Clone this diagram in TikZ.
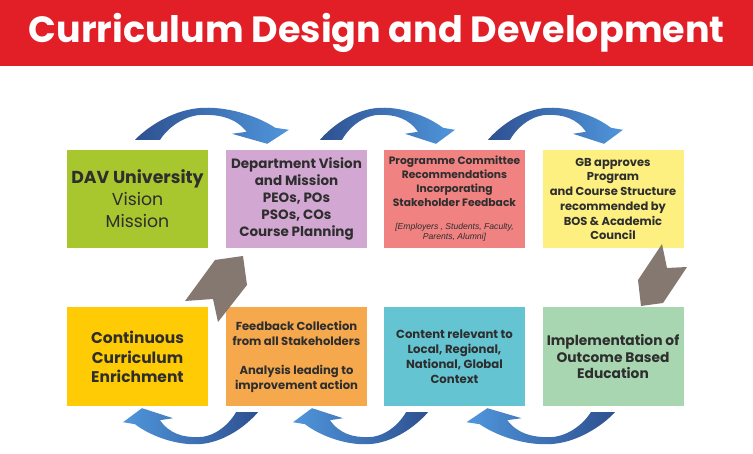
\documentclass[tikz,border=0pt]{standalone}
\usepackage{fontspec}
\setmainfont{Poppins}
\newfontfamily\notefont{Liberation Sans}
\usetikzlibrary{calc}

\definecolor{hdrred}{HTML}{E21E26}
\definecolor{txtgray}{HTML}{2E2E2E}
\definecolor{davgreen}{HTML}{A8C62D}
\definecolor{deptlilac}{HTML}{D2A8D2}
\definecolor{pcred}{HTML}{F08282}
\definecolor{gbyellow}{HTML}{FDF080}
\definecolor{ccegold}{HTML}{FFCB05}
\definecolor{fborange}{HTML}{F6A84D}
\definecolor{crteal}{HTML}{64C4D2}
\definecolor{obegreen}{HTML}{A8D6B0}
\definecolor{chevron}{HTML}{857870}
\definecolor{bluedark}{HTML}{2E5090}
\definecolor{bluelight}{HTML}{AAD2F0}
\definecolor{bluemid}{HTML}{5096DC}

\tikzset{
  box/.style={minimum width=141pt, minimum height=98pt, inner sep=0pt, align=center, text=txtgray},
  topblue/.style={left color=bluedark, middle color=bluelight, right color=bluemid},
  botblue/.style={left color=bluemid, middle color=bluelight, right color=bluedark},
}

\newcommand{\bluecurve}[2]{%
  \begin{scope}[#1]
    \shade[#2] (0,0) .. controls (12,-14) and (35,-31) .. (60,-32)
      .. controls (85,-33) and (110,-22) .. (123,-12) -- (135,-10) -- (116,4)
      -- (85,-6) -- (98,-8) .. controls (88,-22) and (75,-25) .. (60,-25)
      .. controls (45,-25) and (30,-14) .. (22,0) -- cycle;
  \end{scope}}

\begin{document}
\begin{tikzpicture}[x=1pt,y=-1pt]
    \useasboundingbox (0,0) rectangle (753,454);

    \node[fill=hdrred, minimum width=753pt, minimum height=66pt, anchor=north west, inner sep=0pt,
      text=white, font=\fontsize{36.5}{36.5}\selectfont\bfseries] (Title) at (0,0) {Curriculum Design and Development};

    \node[box, fill=davgreen, font=\fontsize{17.3}{22}\selectfont] (DAV) at (137.5,199) {\textbf{DAV University}\\Vision\\Mission};
    \node[box, fill=deptlilac, font=\fontsize{13.5}{17}\selectfont\bfseries] (Dept) at (296.5,199) {Department Vision\\and Mission\\PEOs, POs\\PSOs, COs\\Course Planning};
    \node[box, fill=pcred] (PC) at (454.5,199) {};
    \node[align=center, text=txtgray, font=\fontsize{10.7}{14}\selectfont\bfseries] (PCtext) at (454.5,181) {Programme Committee\\Recommendations\\Incorporating\\Stakeholder Feedback};
    \node[align=center, text=txtgray, font=\notefont\itshape\fontsize{8.6}{10}\selectfont] (PCnote) at (454.5,232.5) {[Employers , Students, Faculty,\\Parents, Alumni]};
    \node[box, fill=gbyellow, font=\fontsize{11.5}{14.7}\selectfont\bfseries] (GB) at (613,199) {GB approves\\Program\\and Course Structure\\recommended by\\BOS \& Academic\\Council};

    \node[box, minimum height=99pt, fill=ccegold, font=\fontsize{15.5}{19.5}\selectfont\bfseries] (CCE) at (137.5,357) {Continuous\\Curriculum\\Enrichment};
    \node[box, minimum height=99pt, fill=fborange, font=\fontsize{11.6}{15}\selectfont\bfseries] (FB) at (296.5,357) {Feedback Collection\\from all Stakeholders\\[14pt]Analysis leading to\\improvement action};
    \node[box, minimum height=99pt, fill=crteal, font=\fontsize{11.7}{15}\selectfont\bfseries] (CR) at (454.5,357) {Content relevant to\\Local, Regional,\\National, Global\\Context};
    \node[box, minimum height=99pt, fill=obegreen, font=\fontsize{13.8}{16.5}\selectfont\bfseries] (OBE) at (613,357) {Implementation of\\Outcome Based\\Education};

    \bluecurve{shift={($(DAV.north)+(-2.5,-10)$)}, xscale=1.14}{topblue}
    \bluecurve{shift={($(Dept.north)+(23.5,-10)$)}}{topblue}
    \bluecurve{shift={($(PC.north)+(33.5,-10)$)}}{topblue}

    \bluecurve{shift={($(FB.south)+(-38.5,5.5)$)}, rotate=180}{botblue}
    \bluecurve{shift={($(CR.south)+(-26.5,5.5)$)}, rotate=180}{botblue}
    \bluecurve{shift={($(OBE.south)+(2,5.5)$)}, rotate=180, xscale=1.1}{botblue}

    \fill[chevron] (215,260) -- (243,256) -- (247,285) -- (218,322) -- (213,299) -- (185,301) -- cycle;
    \fill[chevron] (662,244) -- (667,268) -- (687,267) -- (663,303) -- (641,306) -- (638,280) -- cycle;
\end{tikzpicture}
\end{document}
